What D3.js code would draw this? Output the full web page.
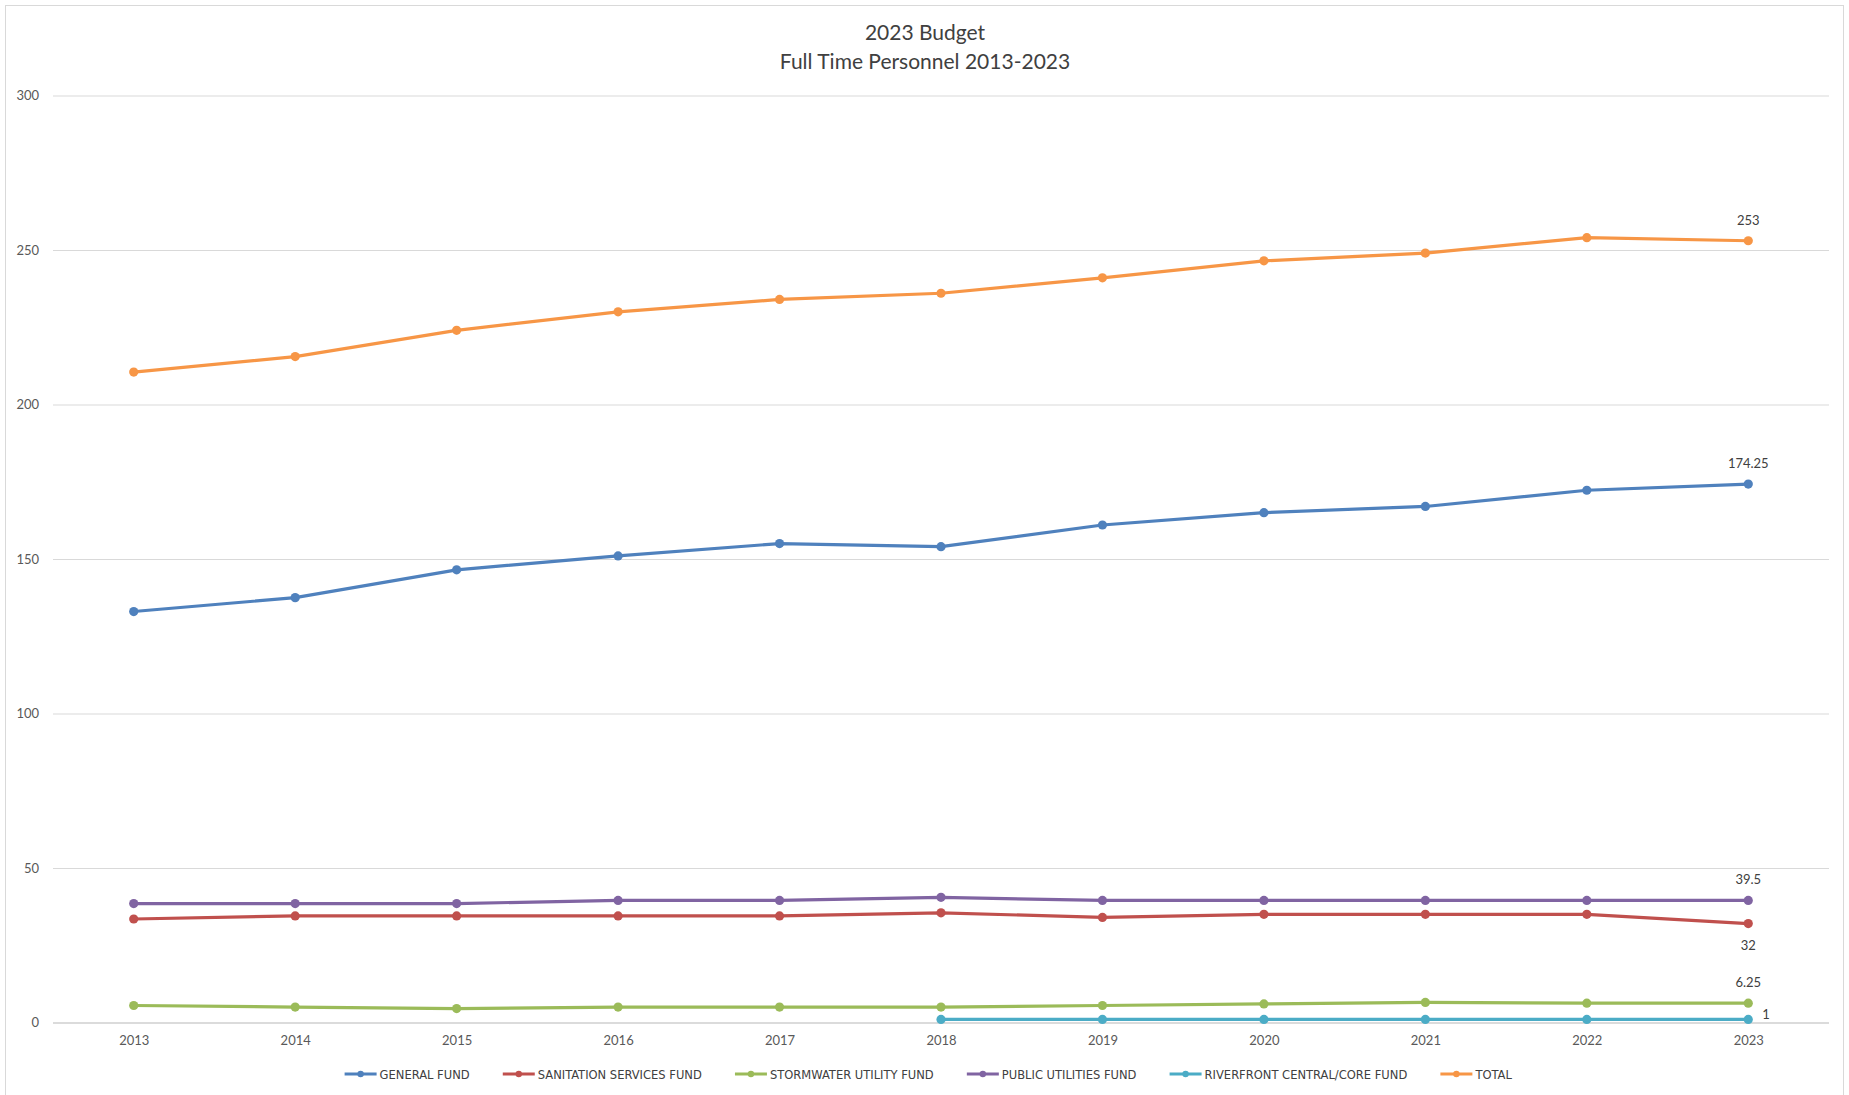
<!DOCTYPE html>
<html>
<head>
<meta charset="utf-8">
<script src="https://cdn.jsdelivr.net/npm/d3@7"></script>
<style>
  html, body { margin: 0; padding: 0; background: #ffffff; }
  svg { display: block; font-family: Lato, "Open Sans", "Liberation Sans", sans-serif; }
</style>
</head>
<body>
<svg id="chart" width="1849" height="1095"></svg>
<script>
// Full-time personnel by fund, 2013-2023
const years = ["2013","2014","2015","2016","2017","2018","2019","2020","2021","2022","2023"];
const generalFund      = [133, 137.5, 146.5, 151, 155, 154, 161, 165, 167, 172.25, 174.25];
const sanitationFund   = [33.5, 34.5, 34.5, 34.5, 34.5, 35.5, 34, 35, 35, 35, 32];
const stormwaterFund   = [5.5, 5, 4.5, 5, 5, 5, 5.5, 6, 6.5, 6.25, 6.25];
const publicUtilities  = [38.5, 38.5, 38.5, 39.5, 39.5, 40.5, 39.5, 39.5, 39.5, 39.5, 39.5];
const riverfrontFund   = [null, null, null, null, null, 1, 1, 1, 1, 1, 1];
const totalPersonnel   = [210.5, 215.5, 224, 230, 234, 236, 241, 246.5, 249, 254, 253];
const yTicks = [0, 50, 100, 150, 200, 250, 300];
const titleLines = ["2023 Budget", "Full Time Personnel 2013-2023"];

const seriesNames  = ["GENERAL FUND", "SANITATION SERVICES FUND", "STORMWATER UTILITY FUND",
                      "PUBLIC UTILITIES FUND", "RIVERFRONT CENTRAL/CORE FUND", "TOTAL"];
const seriesValues = [generalFund, sanitationFund, stormwaterFund, publicUtilities, riverfrontFund, totalPersonnel];
const seriesColors = ["#4F81BD", "#C0504D", "#9BBB59", "#8064A2", "#4BACC6", "#F79646"];
// where the final value label sits relative to its point
const labelPlacement = ["above", "below", "above", "above", "right", "above"];

const svg = d3.select("#chart");
const W = 1849, H = 1095;
const plot = { left: 53, right: 1829, top: 95.5, bottom: 1022.5 };

// chart frame
svg.append("rect")
  .attr("x", 5.5).attr("y", 5.5)
  .attr("width", 1838).attr("height", H + 20)
  .attr("fill", "#ffffff").attr("stroke", "#d9d9d9").attr("stroke-width", 1);

const x = d3.scalePoint().domain(years).range([plot.left, plot.right]).padding(0.5);
const y = d3.scaleLinear().domain([0, 300]).range([plot.bottom, plot.top]);

// title
const title = svg.append("text")
  .attr("x", 925).attr("y", 40)
  .attr("text-anchor", "middle")
  .attr("fill", "#404040")
  .attr("font-size", 21);
title.selectAll("tspan").data(titleLines).join("tspan")
  .attr("x", 925).attr("dy", (d, i) => i === 0 ? 0 : 28.5)
  .text(d => d);

// y axis with gridlines
const yAxis = svg.append("g")
  .attr("transform", `translate(${plot.left},0)`)
  .call(d3.axisLeft(y).tickValues(yTicks).tickSize(-(plot.right - plot.left)).tickPadding(14));
yAxis.select(".domain").remove();
yAxis.selectAll(".tick line")
  .attr("stroke", d => d === 0 ? "#cfcfcf" : "#d9d9d9")
  .attr("stroke-width", d => d === 0 ? 1.5 : 1);
yAxis.selectAll(".tick text")
  .attr("fill", "#595959").attr("font-size", 13)
  .attr("font-family", "Lato, 'Open Sans', sans-serif");

// x axis labels
const xAxis = svg.append("g")
  .attr("transform", `translate(0,${plot.bottom})`)
  .call(d3.axisBottom(x).tickSize(0).tickPadding(13));
xAxis.select(".domain").remove();
xAxis.selectAll(".tick text")
  .attr("fill", "#595959").attr("font-size", 13)
  .attr("font-family", "Lato, 'Open Sans', sans-serif");

// series lines and markers
const line = d3.line()
  .defined(d => d.v !== null)
  .x(d => x(d.year))
  .y(d => y(d.v));

seriesValues.forEach((vals, si) => {
  const pts = years.map((yr, i) => ({ year: yr, v: vals[i] }));
  const g = svg.append("g");
  g.append("path")
    .datum(pts)
    .attr("d", line)
    .attr("fill", "none")
    .attr("stroke", seriesColors[si])
    .attr("stroke-width", 3.2)
    .attr("stroke-linejoin", "round")
    .attr("stroke-linecap", "round");
  g.selectAll("circle")
    .data(pts.filter(d => d.v !== null))
    .join("circle")
    .attr("cx", d => x(d.year))
    .attr("cy", d => y(d.v))
    .attr("r", 4.6)
    .attr("fill", seriesColors[si]);

  // value label on the last year
  const last = pts[pts.length - 1];
  const lx = x(last.year), ly = y(last.v);
  const place = labelPlacement[si];
  const t = g.append("text")
    .attr("fill", "#404040")
    .attr("font-size", 13)
    .text(last.v);
  if (place === "above") {
    t.attr("x", lx).attr("y", ly - 16).attr("text-anchor", "middle");
  } else if (place === "below") {
    t.attr("x", lx).attr("y", ly + 26).attr("text-anchor", "middle");
  } else {
    t.attr("x", lx + 14).attr("y", ly - 0.5).attr("text-anchor", "start");
  }
});

// legend
const legend = svg.append("g").attr("transform", "translate(0,1074)");
const items = legend.selectAll("g.item")
  .data(seriesNames)
  .join("g").attr("class", "item");
items.append("line")
  .attr("x1", 0).attr("x2", 32).attr("y1", 0).attr("y2", 0)
  .attr("stroke", (d, i) => seriesColors[i]).attr("stroke-width", 3);
items.append("circle")
  .attr("cx", 16).attr("cy", 0).attr("r", 3.2)
  .attr("fill", (d, i) => seriesColors[i]);
items.append("text")
  .attr("x", 35).attr("y", 4.5)
  .attr("fill", "#404040")
  .attr("font-size", 12.8)
  .attr("font-family", "'Liberation Sans Narrow', 'DejaVu Sans Condensed', Lato, sans-serif")
  .text(d => d);
// position items side by side, centred
let offsets = [], cursor = 0;
items.each(function () {
  const w = this.getBBox().width;
  offsets.push(cursor);
  cursor += w + 33;
});
const total = cursor - 33;
const startX = 928.5 - total / 2;
items.attr("transform", (d, i) => `translate(${startX + offsets[i]},0)`);
</script>
</body>
</html>
